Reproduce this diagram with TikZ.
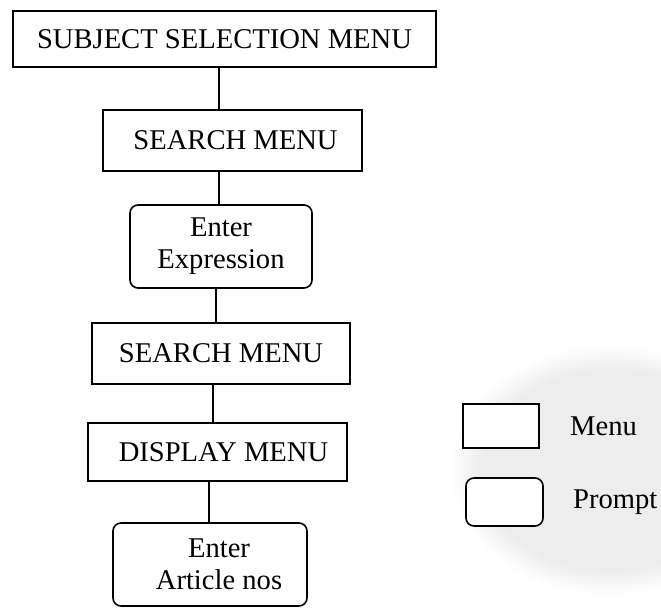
\documentclass[tikz,border=0pt]{standalone}
\usepackage{fontspec}
\setmainfont{Liberation Serif}
\usetikzlibrary{fadings}
\begin{document}
\begin{tikzpicture}[x=1pt,y=-1pt,
  every node/.style={font=\fontsize{28.6}{32}\selectfont, inner sep=0pt, align=center},
  menubox/.style={draw, line width=1.6pt, rectangle, fill=white},
  promptbox/.style={draw, line width=1.6pt, rectangle, rounded corners=8pt, fill=white},
  conn/.style={line width=1.6pt}]
\useasboundingbox (0,0) rectangle (661,609);
% faint scan speckle behind the legend
\fill[gray!14, path fading=circle with fuzzy edge 20 percent] (610,470) ellipse [x radius=160pt, y radius=125pt];
% flow boxes
\node[menubox, minimum width=423pt, minimum height=56pt] (n1) at (224.5,39) {SUBJECT SELECTION MENU};
\node[menubox, minimum width=259pt, minimum height=61pt] (n2) at (232.5,140.5) {\hspace*{6pt}SEARCH MENU};
\node[promptbox, minimum width=182pt, minimum height=83pt] (n3) at (221,246.5) {Enter\\Expression};
\node[menubox, minimum width=258pt, minimum height=61pt] (n4) at (221,353.5) {SEARCH MENU};
\node[menubox, minimum width=259pt, minimum height=58pt] (n5) at (217.5,452) {\hspace*{12pt}DISPLAY MENU};
\node[promptbox, minimum width=194pt, minimum height=83pt] (n6) at (210,564.5) {\hspace*{18pt}Enter\\\hspace*{18pt}Article nos};
% connectors
\draw[conn] (219,0 |- n1.south) -- (219,0 |- n2.north);
\draw[conn] (219,0 |- n2.south) -- (219,0 |- n3.north);
\draw[conn] (216,0 |- n3.south) -- (216,0 |- n4.north);
\draw[conn] (213,0 |- n4.south) -- (213,0 |- n5.north);
\draw[conn] (209,0 |- n5.south) -- (209,0 |- n6.north);
% legend
\node[menubox, minimum width=76pt, minimum height=44pt] (lm) at (501,426) {};
\node[promptbox, minimum width=77pt, minimum height=48pt] (lp) at (504.5,502) {};
\node[anchor=west] (tm) at (570,426) {Menu};
\node[anchor=west] (tp) at (573,502) {Prompt};
\end{tikzpicture}
\end{document}
